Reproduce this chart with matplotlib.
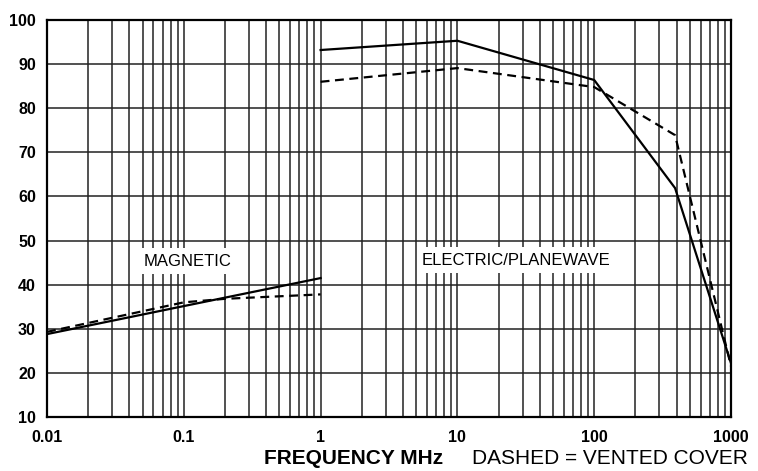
import numpy as np
import matplotlib.pyplot as plt

plt.rcParams["font.family"] = ["Liberation Sans", "DejaVu Sans"]

# magnetic region (0.01 - 1 MHz)
mag_freq = [0.01, 1]
mag_solid = [28.8, 41.5]
mag_dash_freq = [0.01, 0.1, 0.2, 1]
mag_dashed = [29.3, 36.0, 36.8, 37.8]

# electric / planewave region (1 - 1000 MHz)
ele_freq = [1, 10, 100, 390, 1000]
ele_solid = [93.2, 95.3, 86.4, 61.9, 22.2]
ele_dashed = [86.0, 89.1, 84.8, 73.9, 21.5]

x_ticks = [0.01, 0.1, 1, 10, 100, 1000]
x_labels = ["0.01", "0.1", "1", "10", "100", "1000"]
y_ticks = [10, 20, 30, 40, 50, 60, 70, 80, 90, 100]


def main():
    fig = plt.figure(figsize=(7.58, 4.71), dpi=100)
    ax = fig.add_axes([0.062, 0.1146, 0.9024, 0.8429])
    ax.set_xscale("log")
    ax.set_xlim(0.01, 1000)
    ax.set_ylim(10, 100)

    ax.grid(True, which="both", axis="x", color="#222222", linewidth=1.1)
    ax.grid(True, which="major", axis="y", color="#222222", linewidth=1.1)
    ax.set_axisbelow(True)

    ax.plot(mag_freq, mag_solid, color="black", linewidth=1.6)
    ax.plot(mag_dash_freq, mag_dashed, color="black", linewidth=1.6, linestyle=(0, (4, 2.5)))
    ax.plot(ele_freq, ele_solid, color="black", linewidth=1.6)
    ax.plot(ele_freq, ele_dashed, color="black", linewidth=1.6, linestyle=(0, (4, 2.5)))

    box = dict(facecolor="white", edgecolor="none", pad=4)
    ax.text(0.107, 45.3, "MAGNETIC", ha="center", va="center", fontsize=12, bbox=box)
    ax.text(27, 45.5, "ELECTRIC/PLANEWAVE", ha="center", va="center", fontsize=12, bbox=box)

    ax.set_xticks(x_ticks)
    ax.set_xticklabels(x_labels, fontweight="bold", fontsize=11.5)
    ax.set_yticks(y_ticks)
    ax.set_yticklabels([str(v) for v in y_ticks], fontweight="bold", fontsize=11.5)
    ax.tick_params(axis="x", which="both", length=0, pad=9)
    ax.tick_params(axis="y", which="both", length=0, pad=8)
    for s in ax.spines.values():
        s.set_linewidth(1.6)

    fig.text(0.348, 0.027, "FREQUENCY MHz", fontweight="bold", fontsize=15, va="center")
    fig.text(0.623, 0.027, "DASHED = VENTED COVER", fontsize=15, va="center")

    fig.savefig("out.png", dpi=100)


if __name__ == "__main__":
    main()
